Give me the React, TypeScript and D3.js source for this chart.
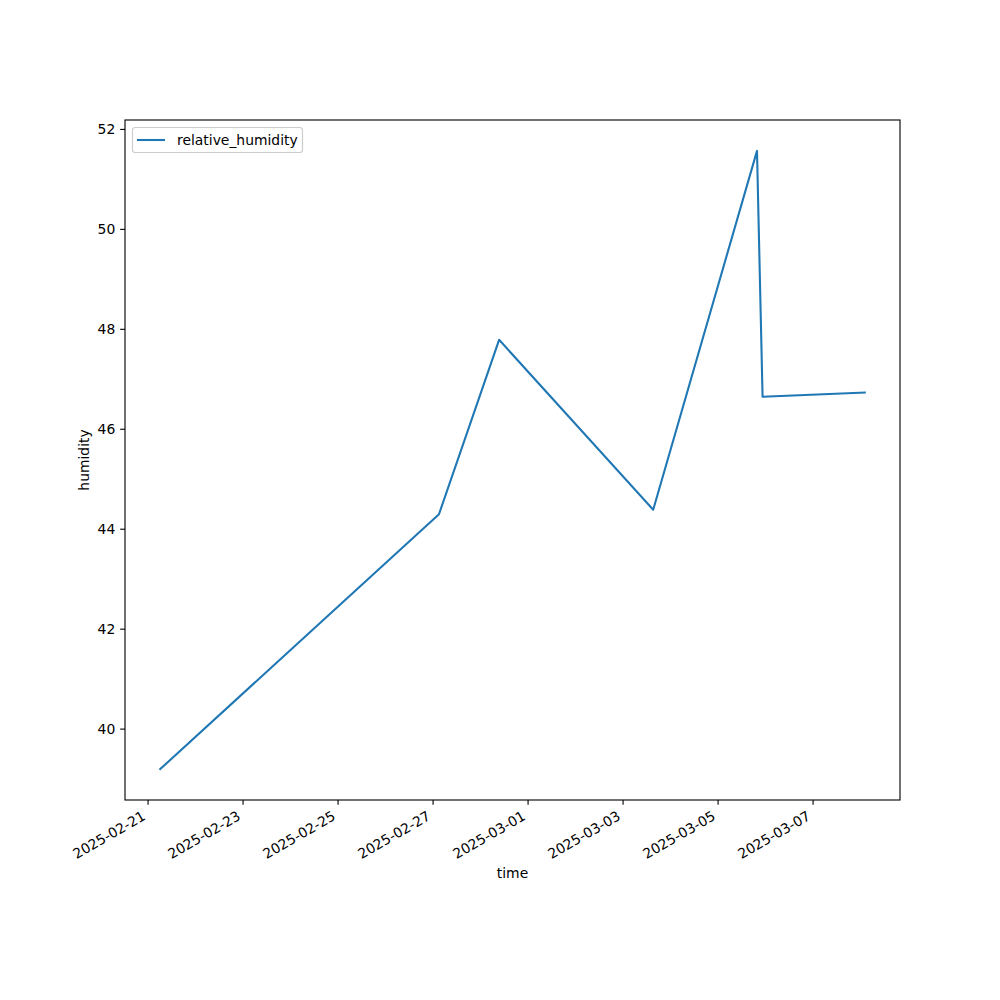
import React from "react";
import * as d3 from "d3";

const times = [
  "2025-02-21T06:09",
  "2025-02-27T02:59",
  "2025-02-28T09:22",
  "2025-03-03T15:13",
  "2025-03-05T19:40",
  "2025-03-05T22:29",
  "2025-03-08T02:07",
];
const humidity = [39.2, 44.3, 47.79, 44.39, 51.57, 46.65, 46.735];
const xTickLabels = [
  "2025-02-21",
  "2025-02-23",
  "2025-02-25",
  "2025-02-27",
  "2025-03-01",
  "2025-03-03",
  "2025-03-05",
  "2025-03-07",
];
const yTicks = [40, 42, 44, 46, 48, 50, 52];
const seriesName = "relative_humidity";

const W = 1000;
const H = 1000;
const left = 125;
const right = 900;
const top = 120;
const bottom = 800;
const FONT = "DejaVu Sans, sans-serif";
const FS = 13.9;
const COLOR = "#1f77b4";

export default function App() {
  const parseT = d3.utcParse("%Y-%m-%dT%H:%M");
  const parseD = d3.utcParse("%Y-%m-%d");
  const dates = times.map((t) => parseT(t) as Date);
  const data = dates.map((d, i) => ({ d, v: humidity[i] }));

  const [x0, x1] = d3.extent(dates) as [Date, Date];
  const xm = (x1.getTime() - x0.getTime()) * 0.05;
  const x = d3
    .scaleUtc()
    .domain([new Date(x0.getTime() - xm), new Date(x1.getTime() + xm)])
    .range([left, right]);

  const [y0, y1] = d3.extent(humidity) as [number, number];
  const ym = (y1 - y0) * 0.05;
  const y = d3.scaleLinear().domain([y0 - ym, y1 + ym]).range([bottom, top]);

  const line = d3
    .line<{ d: Date; v: number }>()
    .x((p) => x(p.d))
    .y((p) => y(p.v));

  const tickLen = 4.86;
  const pad = 4.86;
  const ascent = 10.6;
  const descent = 3.2;
  const cos30 = Math.cos(Math.PI / 6);
  const sin30 = 0.5;

  return (
    <svg width={W} height={H} style={{ display: "block", position: "absolute", left: 0, top: 0 }}>
      <rect x={0} y={0} width={W} height={H} fill="#fff" />
      <path
        d={line(data) || ""}
        fill="none"
        stroke={COLOR}
        strokeWidth={2.08}
        strokeLinejoin="round"
        strokeLinecap="square"
      />
      {/* spines */}
      <rect
        x={left}
        y={top}
        width={right - left}
        height={bottom - top}
        fill="none"
        stroke="#000"
        strokeWidth={1.11}
      />
      {/* x ticks */}
      {xTickLabels.map((lab) => {
        const tx = x(parseD(lab) as Date);
        const px = tx - descent * sin30;
        const py = bottom + tickLen + pad + ascent * cos30;
        return (
          <g key={lab}>
            <line x1={tx} x2={tx} y1={bottom} y2={bottom + tickLen} stroke="#000" strokeWidth={1.11} />
            <text
              x={px}
              y={py}
              fontFamily={FONT}
              fontSize={FS}
              textAnchor="end"
              transform={`rotate(-30, ${px}, ${py})`}
            >
              {lab}
            </text>
          </g>
        );
      })}
      {/* y ticks */}
      {yTicks.map((t) => {
        const ty = y(t);
        return (
          <g key={t}>
            <line x1={left - tickLen} x2={left} y1={ty} y2={ty} stroke="#000" strokeWidth={1.11} />
            <text
              x={left - tickLen - pad}
              y={ty}
              fontFamily={FONT}
              fontSize={FS}
              textAnchor="end"
              dominantBaseline="central"
            >
              {t}
            </text>
          </g>
        );
      })}
      {/* axis labels */}
      <text x={(left + right) / 2} y={878} fontFamily={FONT} fontSize={FS} textAnchor="middle">
        time
      </text>
      <text
        x={89}
        y={(top + bottom) / 2}
        fontFamily={FONT}
        fontSize={FS}
        textAnchor="middle"
        transform={`rotate(-90, 89, ${(top + bottom) / 2})`}
      >
        humidity
      </text>
      {/* legend */}
      <g>
        <rect
          x={132.5}
          y={127.5}
          width={170}
          height={25}
          rx={2.8}
          ry={2.8}
          fill="#fff"
          fillOpacity={0.8}
          stroke="#cccccc"
          strokeWidth={1.11}
        />
        <line x1={137} x2={165} y1={140} y2={140} stroke={COLOR} strokeWidth={2.08} />
        <text x={177} y={140} fontFamily={FONT} fontSize={FS} dominantBaseline="central">
          {seriesName}
        </text>
      </g>
    </svg>
  );
}
